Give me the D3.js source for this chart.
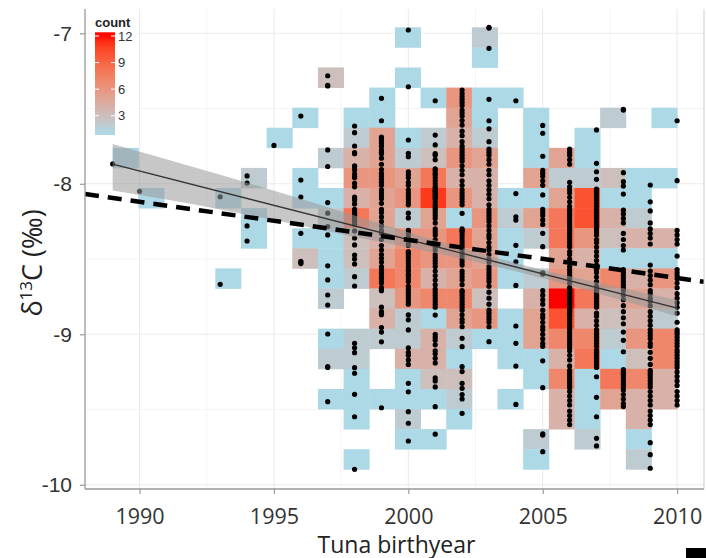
<!DOCTYPE html>
<html>
<head>
<meta charset="utf-8">
<script src="https://cdn.jsdelivr.net/npm/d3@7"></script>
<style>
  html, body { margin: 0; padding: 0; background: #fff; }
  svg { display: block; }
</style>
</head>
<body>
<svg id="chart" width="706" height="558"></svg>
<script>
// Tuna birth year and otolith δ13C (‰), one list of measurements per year
const birthYears = [1989, 1990, 1993, 1994, 1995, 1996, 1997, 1998, 1999, 2000,
                    2001, 2002, 2003, 2004, 2005, 2006, 2007, 2008, 2009, 2010];

const delta13C = [
  [-7.868],
  [-8.05],
  [-8.086, -8.668],
  [-7.948, -7.995, -8.28, -8.38],
  [-7.745],
  [-7.55, -7.975, -8.088, -8.329, -8.515, -8.522, -8.53],
  [-7.282, -7.345, -7.35, -7.775, -7.885, -8.125, -8.195, -8.285, -8.34, -8.545, -8.639,
   -8.739, -8.806, -8.998, -9.215, -9.22, -9.448],
  [-7.616, -7.66, -7.749, -7.793, -7.80, -7.88, -7.886, -7.908, -7.935, -7.953, -7.96, -7.997, -8.02,
   -8.089, -8.10, -8.107, -8.134, -8.17, -8.185, -8.196, -8.21, -8.223, -8.24, -8.252, -8.27,
   -8.313, -8.36, -8.406, -8.473, -8.50, -8.533, -8.617, -8.679, -9.06, -9.09, -9.122, -9.222,
   -9.259, -9.399, -9.548, -9.897],
  [-7.432, -7.581, -7.69, -7.70, -7.71, -7.73, -7.75, -7.775, -7.79, -7.80, -7.83, -7.87,
   -7.905, -7.93, -7.95, -7.97, -7.99, -8.01, -8.04, -8.06, -8.08, -8.10, -8.13,
   -8.17, -8.19, -8.22, -8.25, -8.28, -8.31, -8.33, -8.37, -8.41, -8.44, -8.47, -8.495, -8.52, -8.55,
   -8.57, -8.59, -8.60, -8.62, -8.63, -8.65, -8.66, -8.69, -8.70, -8.71, -8.82,
   -8.85, -8.86, -8.87, -8.955, -8.985, -9.05, -9.488],
  [-6.978, -7.355, -7.709, -7.797, -7.82, -7.92, -7.94, -7.96, -7.99, -8.01,
   -8.04, -8.06, -8.08, -8.10, -8.12, -8.14, -8.195, -8.227, -8.31, -8.33, -8.35, -8.37, -8.39, -8.41,
   -8.45, -8.46, -8.47, -8.49, -8.51, -8.53, -8.55, -8.57, -8.58, -8.60, -8.61, -8.63, -8.65, -8.68,
   -8.70, -8.72, -8.74, -8.76, -8.78, -8.80, -8.871, -8.904, -8.971, -9.09,
   -9.12, -9.14, -9.17, -9.20, -9.326, -9.382, -9.514, -9.591, -9.709],
  [-7.448, -7.676, -7.742, -7.80, -7.81, -7.84, -7.90, -7.91, -7.93, -7.94, -7.96, -7.98, -8.00, -8.02,
   -8.03, -8.04, -8.05, -8.06, -8.07, -8.08, -8.09, -8.10, -8.12, -8.14, -8.155,
   -8.17, -8.19, -8.21, -8.23, -8.26, -8.30, -8.32, -8.34, -8.37, -8.40, -8.42,
   -8.44, -8.47, -8.49, -8.51, -8.53, -8.55, -8.58, -8.61, -8.64, -8.67,
   -8.70, -8.72, -8.74, -8.76, -8.78, -8.80, -8.82, -8.872, -9.00, -9.02, -9.04, -9.07,
   -9.11, -9.13, -9.16, -9.19, -9.29, -9.31, -9.35, -9.481, -9.664],
  [-7.377, -7.40, -7.42, -7.44, -7.46, -7.48, -7.51, -7.53, -7.55, -7.58, -7.61,
   -7.65, -7.68, -7.72, -7.75, -7.77, -7.79, -7.81, -7.83, -7.85, -7.88, -7.91, -7.94, -7.98, -8.01,
   -8.04, -8.06, -8.08, -8.10, -8.12, -8.14, -8.196, -8.30, -8.31, -8.32, -8.34, -8.36, -8.38, -8.40, -8.42,
   -8.44, -8.46, -8.48, -8.50, -8.52, -8.54, -8.58, -8.60, -8.62, -8.64, -8.67,
   -8.71, -8.72, -8.74, -8.76, -8.78, -8.80, -8.82, -8.84, -8.87, -8.90, -8.92, -8.95,
   -9.027, -9.082, -9.215, -9.248, -9.326, -9.359, -9.40, -9.43, -9.525],
  [-6.96, -6.965, -7.10, -7.439, -7.581, -7.635, -7.72, -7.77, -7.79, -7.81, -7.84, -7.87,
   -7.91, -7.94, -7.98, -8.01, -8.04, -8.07, -8.10, -8.14, -8.17, -8.19, -8.21, -8.23, -8.25, -8.28,
   -8.31, -8.34, -8.36, -8.39, -8.42, -8.44, -8.47, -8.50, -8.52, -8.55,
   -8.57, -8.59, -8.61, -8.63, -8.65, -8.68, -8.72, -8.76, -8.80,
   -8.84, -8.86, -8.88, -8.90, -8.92, -8.95, -9.049],
  [-7.448, -8.065, -8.219, -8.241, -8.409, -8.518, -8.675, -8.945, -9.06, -9.211, -9.466],
  [-7.612, -7.664, -7.817, -7.91, -7.93, -7.95, -7.98, -8.01, -8.074, -8.17, -8.19, -8.21, -8.24, -8.27,
   -8.329, -8.418, -8.591, -8.60, -8.71, -8.74, -8.77, -8.80, -8.84, -8.87, -8.89, -8.92, -8.95,
   -8.97, -9.00, -9.03, -9.06, -9.08, -9.176, -9.355, -9.662, -9.67, -9.78],
  [-7.77, -7.79, -7.81, -7.84, -7.87, -7.99, -8.02, -8.04, -8.06, -8.09, -8.12, -8.15,
   -8.17, -8.18, -8.20, -8.21, -8.23, -8.25, -8.27, -8.285, -8.30, -8.31, -8.33, -8.35, -8.37, -8.39, -8.41, -8.42,
   -8.45, -8.47, -8.50, -8.52, -8.55, -8.57, -8.59, -8.61, -8.63, -8.66, -8.69,
   -8.70, -8.71, -8.72, -8.73, -8.74, -8.75, -8.76, -8.77, -8.78, -8.79, -8.80, -8.82,
   -8.835, -8.84, -8.85, -8.86, -8.87, -8.88, -8.90, -8.92, -8.94, -8.955,
   -8.97, -8.99, -9.01, -9.03, -9.05, -9.07, -9.09, -9.11, -9.14, -9.17, -9.21,
   -9.24, -9.26, -9.28, -9.30, -9.32, -9.34, -9.355, -9.38, -9.41, -9.44, -9.47,
   -9.51, -9.54, -9.57, -9.60],
  [-7.642, -7.864, -7.92, -7.97, -8.035, -8.045, -8.055, -8.065, -8.075, -8.085, -8.095, -8.11, -8.13, -8.15,
   -8.17, -8.18, -8.19, -8.20, -8.21, -8.22, -8.23, -8.25, -8.27, -8.285,
   -8.30, -8.32, -8.34, -8.37, -8.39, -8.42, -8.451, -8.48, -8.51, -8.54,
   -8.57, -8.59, -8.62, -8.65, -8.68, -8.70, -8.715, -8.73, -8.745, -8.76, -8.78, -8.80, -8.82,
   -8.86, -8.88, -8.91, -8.94, -8.97, -8.99, -9.00, -9.02, -9.04, -9.06, -9.08,
   -9.105, -9.12, -9.13, -9.145, -9.16, -9.18, -9.20, -9.22, -9.282, -9.419, -9.548, -9.691, -9.742],
  [-7.505, -7.51, -7.926, -7.986, -8.015, -8.068, -8.175, -8.20, -8.23, -8.26, -8.33, -8.37, -8.41, -8.44,
   -8.57, -8.59, -8.61, -8.63, -8.65, -8.67, -8.69, -8.71, -8.74, -8.77, -8.81, -8.85, -8.89, -8.93,
   -8.985, -9.04, -9.116, -9.235, -9.25, -9.26, -9.27, -9.29, -9.31, -9.33, -9.35,
   -9.37, -9.40, -9.43, -9.46, -9.48],
  [-8.008, -8.12, -8.18, -8.26, -8.30, -8.33, -8.36, -8.40, -8.54, -8.58, -8.61, -8.64, -8.67,
   -8.71, -8.73, -8.76, -8.78, -8.81, -8.85, -8.88, -8.91, -8.94, -8.97, -8.99, -9.01, -9.03, -9.06, -9.08,
   -9.12, -9.16, -9.20, -9.24, -9.255, -9.27, -9.29, -9.31, -9.33, -9.35, -9.38, -9.41, -9.44, -9.47,
   -9.51, -9.54, -9.57, -9.60, -9.72, -9.80, -9.89],
  [-7.581, -7.979, -8.31, -8.34, -8.37, -8.40, -8.48, -8.57, -8.59, -8.61, -8.63, -8.66, -8.69,
   -8.73, -8.76, -8.79, -8.82, -8.86, -8.92, -8.97, -8.985, -9.00, -9.02, -9.04, -9.06, -9.08,
   -9.105, -9.12, -9.14, -9.16, -9.18, -9.20, -9.22, -9.25, -9.28, -9.31, -9.34,
   -9.38, -9.41, -9.44, -9.47]
];

// Axis ticks and legend breaks
const xTicks = [1990, 1995, 2000, 2005, 2010];
const yTicks = [-7, -8, -9, -10];
const legendTicks = [3, 6, 9, 12];

// Linear fit with its confidence band
const fitYears = [1989, 2010];
const fitValues = [-7.87, -8.826];
const bandYears = [1989, 1993, 1997, 2001, 2004.5, 2007, 2010];
const bandUpper = [-7.735, -7.94, -8.155, -8.375, -8.55, -8.655, -8.772];
const bandLower = [-8.045, -8.17, -8.315, -8.46, -8.605, -8.725, -8.882];

// Reference trend (dashed)
const refYears = [1987.97, 2011.0];
const refValues = [-8.068, -8.651];

const svg = d3.select("#chart");
const panel = { left: 85, right: 704, top: 9, bottom: 489 };

const x = d3.scaleLinear().domain([1987.97, 2011.0]).range([panel.left, panel.right]);
const y = d3.scaleLinear().domain([-10.028, -6.8385]).range([panel.bottom, panel.top]);

svg.append("defs").append("clipPath").attr("id", "panel-clip")
  .append("rect")
  .attr("x", panel.left).attr("y", panel.top)
  .attr("width", panel.right - panel.left).attr("height", panel.bottom - panel.top);

// Grid lines (major and minor)
const grid = svg.append("g");
const xMinor = [1992.5, 1997.5, 2002.5, 2007.5];
const yMinor = [-7.5, -8.5, -9.5];
grid.selectAll(".gxm").data(xMinor).join("line")
  .attr("x1", d => x(d)).attr("x2", d => x(d))
  .attr("y1", panel.top).attr("y2", panel.bottom)
  .attr("stroke", "#f4f4f4").attr("stroke-width", 1);
grid.selectAll(".gym").data(yMinor).join("line")
  .attr("y1", d => y(d)).attr("y2", d => y(d))
  .attr("x1", panel.left).attr("x2", panel.right)
  .attr("stroke", "#f4f4f4").attr("stroke-width", 1);
grid.selectAll(".gx").data(xTicks).join("line")
  .attr("x1", d => x(d)).attr("x2", d => x(d))
  .attr("y1", panel.top).attr("y2", panel.bottom)
  .attr("stroke", "#ebebeb").attr("stroke-width", 1.1);
grid.selectAll(".gy").data(yTicks).join("line")
  .attr("y1", d => y(d)).attr("y2", d => y(d))
  .attr("x1", panel.left).attr("x2", panel.right)
  .attr("stroke", "#ebebeb").attr("stroke-width", 1.1);

// Points and 2-D bin counts (22 x 22 bins over the data range)
const points = birthYears.flatMap((yr, i) => delta13C[i].map(v => ({ year: yr, v })));
const nBins = 22;
const [x0, x1] = d3.extent(points, d => d.year);
const [y0, y1] = d3.extent(points, d => d.v);
const bw = (x1 - x0) / nBins;
const bh = (y1 - y0) / nBins;
const binOf = (val, lo, w) => Math.max(0, Math.min(nBins - 1, Math.floor((val - lo) / w + 1e-9)));

const cells = d3.rollups(points, g => g.length,
    d => binOf(d.year, x0, bw) + "," + binOf(d.v, y0, bh))
  .map(([k, n]) => { const [i, j] = k.split(",").map(Number); return { i, j, n }; });

const maxCount = d3.max(cells, d => d.n);
const fill = d3.scaleLinear().domain([1, maxCount])
  .range(["#add8e6", "#ff0000"]).interpolate(d3.interpolateLab).clamp(true);

const plot = svg.append("g").attr("clip-path", "url(#panel-clip)");

plot.append("g").selectAll("rect").data(cells).join("rect")
  .attr("x", d => x(x0 + d.i * bw))
  .attr("width", d => x(x0 + (d.i + 1) * bw) - x(x0 + d.i * bw) + 0.4)
  .attr("y", d => y(y0 + (d.j + 1) * bh))
  .attr("height", d => y(y0 + d.j * bh) - y(y0 + (d.j + 1) * bh) + 0.4)
  .attr("fill", d => fill(d.n));

plot.append("g").selectAll("circle").data(points).join("circle")
  .attr("cx", d => x(d.year))
  .attr("cy", d => y(d.v))
  .attr("r", 2.6)
  .attr("fill", "#000");

// Confidence band and fitted line
const band = bandYears.map((yr, i) => ({ yr, hi: bandUpper[i], lo: bandLower[i] }));
plot.append("path").datum(band)
  .attr("d", d3.area().x(d => x(d.yr)).y0(d => y(d.lo)).y1(d => y(d.hi)).curve(d3.curveMonotoneX))
  .attr("fill", "#999").attr("fill-opacity", 0.55);

plot.append("path").datum(fitYears.map((yr, i) => [yr, fitValues[i]]))
  .attr("d", d3.line().x(d => x(d[0])).y(d => y(d[1])))
  .attr("fill", "none").attr("stroke", "#333").attr("stroke-width", 1.3);

plot.append("path").datum(refYears.map((yr, i) => [yr, refValues[i]]))
  .attr("d", d3.line().x(d => x(d[0])).y(d => y(d[1])))
  .attr("fill", "none").attr("stroke", "#000").attr("stroke-width", 4.5)
  .attr("stroke-dasharray", "14,9");

// Panel border on the right
svg.append("line")
  .attr("x1", panel.right).attr("x2", panel.right)
  .attr("y1", panel.top).attr("y2", panel.bottom)
  .attr("stroke", "#cfcfcf").attr("stroke-width", 1);

// Axes
const axisColor = "#9a9a9a";
const yAxis = svg.append("g").attr("transform", `translate(${panel.left},0)`)
  .call(d3.axisLeft(y).tickValues(yTicks).tickSize(5).tickPadding(8).tickFormat(d => String(d)));
yAxis.select(".domain").attr("d", `M0,${panel.top}V${panel.bottom}`).attr("stroke", axisColor).attr("stroke-width", 1.3);
yAxis.selectAll(".tick line").attr("stroke", axisColor).attr("stroke-width", 1.2);
yAxis.selectAll(".tick text")
  .attr("font-family", "'Liberation Sans', Arial, sans-serif")
  .attr("font-size", 21).attr("fill", "#333");

const xAxis = svg.append("g").attr("transform", `translate(0,${panel.bottom})`)
  .call(d3.axisBottom(x).tickValues(xTicks).tickSize(5).tickPadding(8).tickFormat(d => String(d)));
xAxis.select(".domain").attr("d", `M${panel.left},0H${panel.right}`).attr("stroke", axisColor).attr("stroke-width", 1.3);
xAxis.selectAll(".tick line").attr("stroke", axisColor).attr("stroke-width", 1.2);
xAxis.selectAll(".tick text")
  .attr("y", 34.5).attr("dy", null)
  .attr("font-family", "'Open Sans', sans-serif")
  .attr("font-size", 21.5).attr("fill", "#333");

// Axis titles
svg.append("text")
  .attr("x", (panel.left + panel.right) / 2 + 2).attr("y", 552.5)
  .attr("text-anchor", "middle")
  .attr("font-family", "'Open Sans', sans-serif").attr("font-size", 23).attr("fill", "#222")
  .text("Tuna birthyear");

const yTitle = svg.append("text")
  .attr("transform", "translate(42,263) rotate(-90)")
  .attr("text-anchor", "middle")
  .attr("font-family", "'Open Sans', sans-serif").attr("font-size", 27).attr("fill", "#222");
yTitle.append("tspan").text("δ");
yTitle.append("tspan").attr("font-size", 17).attr("dy", -10).text("13");
yTitle.append("tspan").attr("dy", 10).text("C (‰)");

// Legend: colour bar for tile counts
const legend = svg.append("g");
legend.append("rect").attr("x", 93).attr("y", 12).attr("width", 45).attr("height", 126).attr("fill", "#fff");
legend.append("text").attr("x", 95).attr("y", 27)
  .attr("font-family", "'Liberation Sans', Arial, sans-serif").attr("font-weight", "bold")
  .attr("font-size", 13).attr("fill", "#222").text("count");

const ly = d3.scaleLinear().domain([1, 12]).range([133.4, 36]);
const barTop = 32.3, barBottom = 135, barX = 95, barW = 20;
const grad = svg.select("defs").append("linearGradient").attr("id", "count-grad")
  .attr("x1", 0).attr("x2", 0).attr("y1", 0).attr("y2", 1);
d3.range(0, 1.0001, 0.05).forEach(t => {
  const c = ly.invert(barTop + t * (barBottom - barTop));
  grad.append("stop").attr("offset", t).attr("stop-color", fill(Math.max(1, Math.min(maxCount, c))));
});
legend.append("rect").attr("x", barX).attr("y", barTop).attr("width", barW).attr("height", barBottom - barTop)
  .attr("fill", "url(#count-grad)");
legend.selectAll(".lt").data(legendTicks).join("g").each(function (t) {
  const g = d3.select(this);
  g.append("line").attr("x1", barX).attr("x2", barX + 4).attr("y1", ly(t)).attr("y2", ly(t))
    .attr("stroke", "#fff").attr("stroke-width", 1);
  g.append("line").attr("x1", barX + barW - 4).attr("x2", barX + barW).attr("y1", ly(t)).attr("y2", ly(t))
    .attr("stroke", "#fff").attr("stroke-width", 1);
  g.append("text").attr("x", barX + barW + 3).attr("y", ly(t)).attr("dy", "0.36em")
    .attr("font-family", "'Liberation Sans', Arial, sans-serif").attr("font-size", 13)
    .attr("fill", "#333").text(t);
});

// Dark mark in the lower right corner
svg.append("rect").attr("x", 686).attr("y", 548).attr("width", 20).attr("height", 10).attr("fill", "#000");
</script>
</body>
</html>
